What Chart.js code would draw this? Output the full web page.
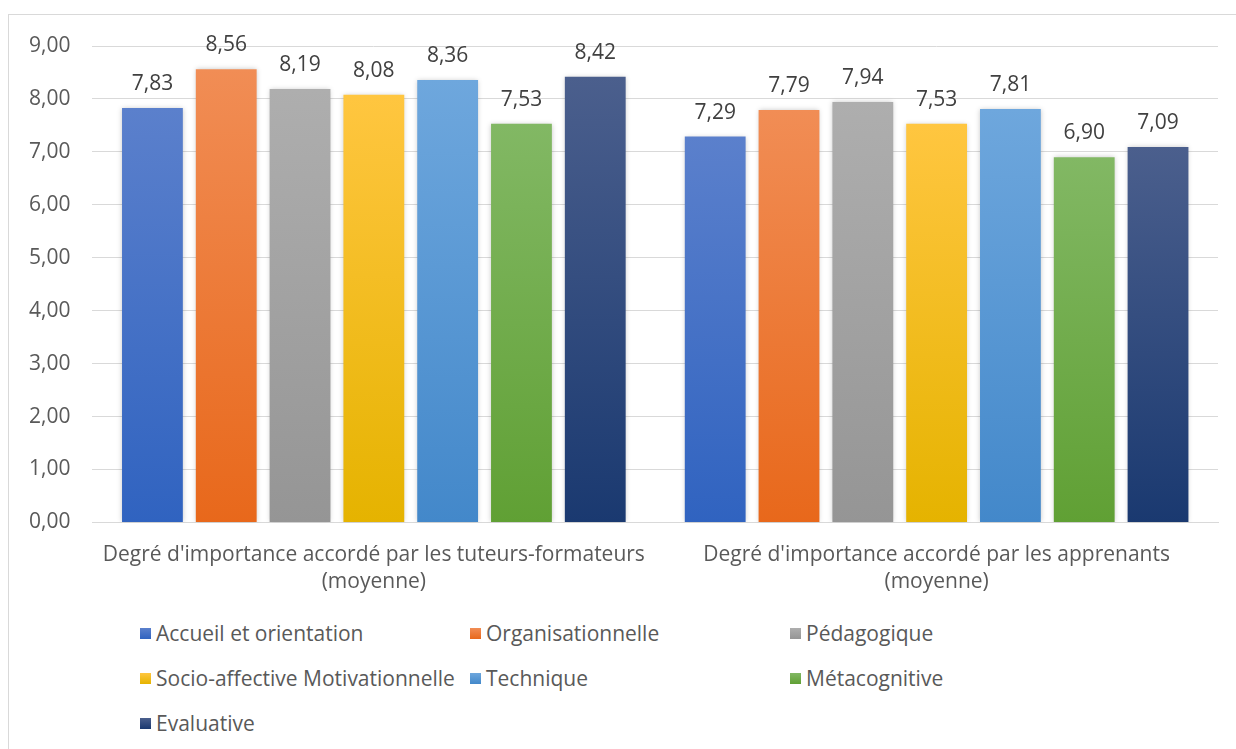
<!DOCTYPE html>
<html lang="fr">
<head>
    <meta charset="UTF-8">
    <title>Degré d'importance</title>
    <script src="https://cdn.jsdelivr.net/npm/chart.js"></script>
    <style>
        html, body {
            margin: 0;
            padding: 0;
            background: #fff;
            overflow: hidden;
            width: 1236px;
            height: 749px;
            font-family: "Open Sans", sans-serif;
        }
        .frame {
            position: absolute;
            left: 8px;
            top: 14px;
            width: 1260px;
            height: 780px;
            border: 1px solid #d9d9d9;
        }
        .wrap {
            position: absolute;
            left: 0;
            top: 0;
            width: 1236px;
            height: 612px;
        }
        #legend {
            position: absolute;
            left: 140px;
            top: 618px;
            display: grid;
            grid-template-columns: 330px 320px 300px;
            grid-auto-rows: 45px;
            font-size: 21px;
            color: #595959;
        }
        #legend .item {
            display: flex;
            align-items: center;
            height: 30px;
            white-space: nowrap;
        }
        #legend .box {
            width: 11px;
            height: 11px;
            margin-right: 5px;
        }
    </style>
</head>
<body>
    <div class="frame"></div>
    <div class="wrap"><canvas id="myChart"></canvas></div>
    <div id="legend"></div>

    <script>
        const categories = [
            ["Degré d'importance accordé par les tuteurs-formateurs", "(moyenne)"],
            ["Degré d'importance accordé par les apprenants", "(moyenne)"]
        ];
        const seriesNames = [
            "Accueil et orientation",
            "Organisationnelle",
            "Pédagogique",
            "Socio-affective Motivationnelle",
            "Technique",
            "Métacognitive",
            "Evaluative"
        ];
        const accueil = [7.83, 7.29];
        const organisationnelle = [8.56, 7.79];
        const pedagogique = [8.19, 7.94];
        const socioAffective = [8.08, 7.53];
        const technique = [8.36, 7.81];
        const metacognitive = [7.53, 6.90];
        const evaluative = [8.42, 7.09];
        const yTicks = [0, 1, 2, 3, 4, 5, 6, 7, 8, 9];

        // couleurs haut / bas du dégradé
        const colorsTop = ['#5b80cc', '#f18d55', '#aeaeae', '#ffc640', '#6ea7dd', '#82b864', '#4b5f8d'];
        const colorsBottom = ['#3063c0', '#e8681b', '#959595', '#e5b300', '#4388ca', '#60a034', '#1a3970'];

        const values = [accueil, organisationnelle, pedagogique, socioAffective, technique, metacognitive, evaluative];

        function gradientFor(i) {
            return function (c) {
                const chart = c.chart;
                const y = chart.scales.y;
                if (!y || c.raw === undefined) return colorsBottom[i];
                const top = y.getPixelForValue(c.raw);
                const bottom = y.getPixelForValue(0);
                if (!isFinite(top) || !isFinite(bottom) || top === bottom) return colorsBottom[i];
                const g = chart.ctx.createLinearGradient(0, top, 0, bottom);
                g.addColorStop(0, colorsTop[i]);
                g.addColorStop(1, colorsBottom[i]);
                return g;
            };
        }

        const datasets = seriesNames.map((name, i) => ({
            label: name,
            data: values[i],
            backgroundColor: gradientFor(i),
            borderWidth: 0,
            barPercentage: 0.824,
            categoryPercentage: 0.918
        }));

        const fmt = v => v.toFixed(2).replace('.', ',');

        const shadowPlugin = {
            id: 'shadow',
            beforeDatasetsDraw(chart) {
                const ctx = chart.ctx;
                ctx.save();
                ctx.shadowColor = 'rgba(0,0,0,0.22)';
                ctx.shadowBlur = 5;
                ctx.shadowOffsetX = 0;
                ctx.shadowOffsetY = 0;
            },
            afterDatasetsDraw(chart) {
                chart.ctx.restore();
            }
        };

        const valueLabels = {
            id: 'valueLabels',
            afterDatasetsDraw(chart) {
                const ctx = chart.ctx;
                ctx.save();
                ctx.shadowColor = 'transparent';
                ctx.font = '21px "Open Sans", sans-serif';
                ctx.fillStyle = '#404040';
                ctx.textAlign = 'center';
                ctx.textBaseline = 'alphabetic';
                chart.data.datasets.forEach((ds, i) => {
                    chart.getDatasetMeta(i).data.forEach((bar, j) => {
                        ctx.fillText(fmt(ds.data[j]), bar.x, bar.y - 18);
                    });
                });
                ctx.restore();
            }
        };

        const ctx = document.getElementById('myChart').getContext('2d');
        const myChart = new Chart(ctx, {
            type: 'bar',
            data: { labels: categories, datasets: datasets },
            plugins: [shadowPlugin, valueLabels],
            options: {
                responsive: true,
                maintainAspectRatio: false,
                animation: false,
                layout: { padding: { left: 7, right: 18, top: 46, bottom: 5 } },
                scales: {
                    x: {
                        grid: { display: false },
                        border: { display: true, color: '#d9d9d9', width: 1 },
                        ticks: {
                            color: '#595959',
                            font: { family: 'Open Sans', size: 21, lineHeight: 1.3 },
                            padding: 11,
                            maxRotation: 0
                        }
                    },
                    y: {
                        min: 0,
                        max: 9,
                        afterBuildTicks: axis => { axis.ticks = yTicks.map(v => ({ value: v })); },
                        grid: { color: '#d9d9d9', lineWidth: 1, drawTicks: false },
                        border: { display: false },
                        ticks: {
                            color: '#595959',
                            font: { family: 'Open Sans', size: 21 },
                            padding: 22,
                            callback: v => fmt(v)
                        }
                    }
                },
                plugins: {
                    legend: { display: false },
                    tooltip: { enabled: false }
                }
            }
        });

        const legendEl = document.getElementById('legend');
        myChart.data.datasets.forEach((ds, i) => {
            const item = document.createElement('div');
            item.className = 'item';
            item.innerHTML = `<span class="box" style="background: linear-gradient(${colorsTop[i]}, ${colorsBottom[i]})"></span>${ds.label}`;
            legendEl.appendChild(item);
        });
    </script>
</body>
</html>
